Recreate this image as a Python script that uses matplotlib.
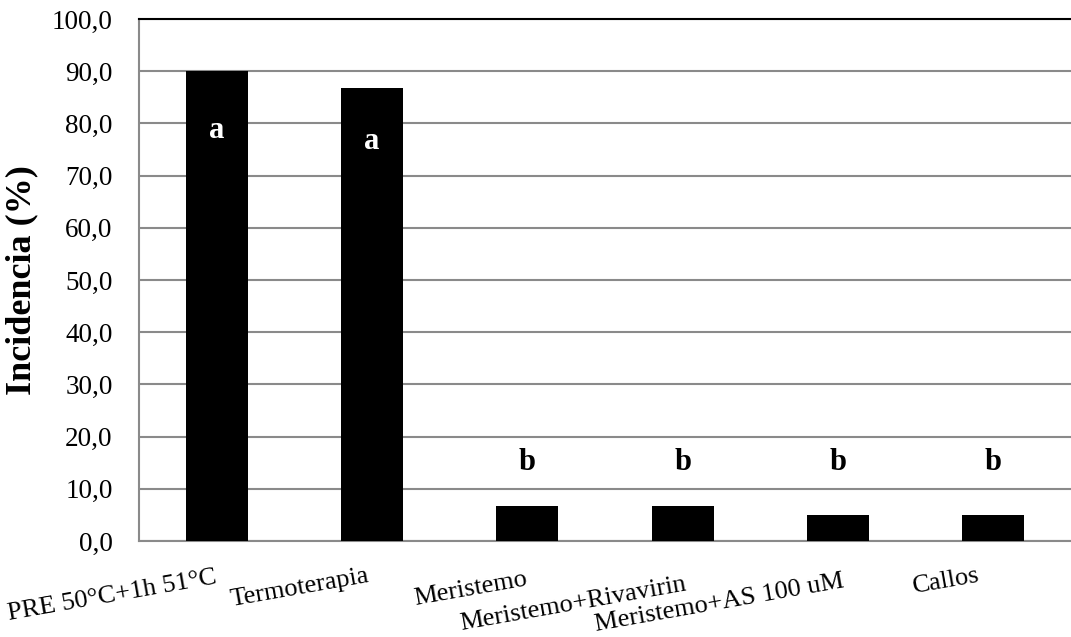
import matplotlib
matplotlib.use("Agg")
import matplotlib.pyplot as plt
from matplotlib.transforms import ScaledTranslation

categories = ["PRE 50°C+1h 51°C", "Termoterapia", "Meristemo",
              "Meristemo+Rivavirin", "Meristemo+AS 100 uM", "Callos"]
incidencia = [90.0, 86.7, 6.7, 6.7, 5.0, 5.0]
letters = ["a", "a", "b", "b", "b", "b"]
letter_y = [78.7, 76.5, 15.0, 15.0, 15.0, 15.0]
letter_colors = ["white", "white", "black", "black", "black", "black"]
yticks = [0, 10, 20, 30, 40, 50, 60, 70, 80, 90, 100]

plt.rcParams['font.family'] = ['Liberation Serif', 'DejaVu Serif']

fig = plt.figure(figsize=(10.71, 6.37), dpi=100)
ax = fig.add_axes([139/1071, 1 - 541/637, 1 - 139/1071, (541 - 19)/637])

x = list(range(len(categories)))
ax.bar(x, incidencia, width=0.4, color="black", zorder=3)

for xi, t, yy, c in zip(x, letters, letter_y, letter_colors):
    ax.text(xi, yy, t, ha="center", va="center", fontsize=22,
            fontweight="bold", color=c, zorder=4)

ax.set_xlim(-0.5, len(categories) - 0.5)
ax.set_ylim(0, 100)
ax.set_yticks(yticks)
ax.set_yticklabels([f"{v:.1f}".replace(".", ",") for v in yticks], fontsize=19.5)
ax.yaxis.grid(True, color="#8a8a8a", linewidth=1.5, zorder=0)
ax.set_axisbelow(True)
ax.tick_params(axis="y", length=0, pad=19)
ax.tick_params(axis="x", length=0, pad=0)

ax.set_xticks(x)
ax.set_xticklabels(categories, fontsize=19, rotation=10, ha="right",
                   va="baseline", rotation_mode="anchor")

# per-label offsets (px) of the right end of each label relative to its tick
dx = [1, -2, 1, 4, 7, -13]
dy = [-42, -41, -44, -49, -46, -40]
for lab, ox, oy in zip(ax.get_xticklabels(), dx, dy):
    lab.set_transform(lab.get_transform() +
                      ScaledTranslation(ox/100, oy/100, fig.dpi_scale_trans))

ax.set_ylabel("Incidencia (%)", fontsize=26, fontweight="bold", labelpad=10)

for s in ["left", "bottom"]:
    ax.spines[s].set_color("#8a8a8a")
    ax.spines[s].set_linewidth(1.5)
ax.spines["top"].set_color("black")
ax.spines["top"].set_linewidth(1.5)
ax.spines["right"].set_visible(False)

fig.savefig("out.png", dpi=100)
